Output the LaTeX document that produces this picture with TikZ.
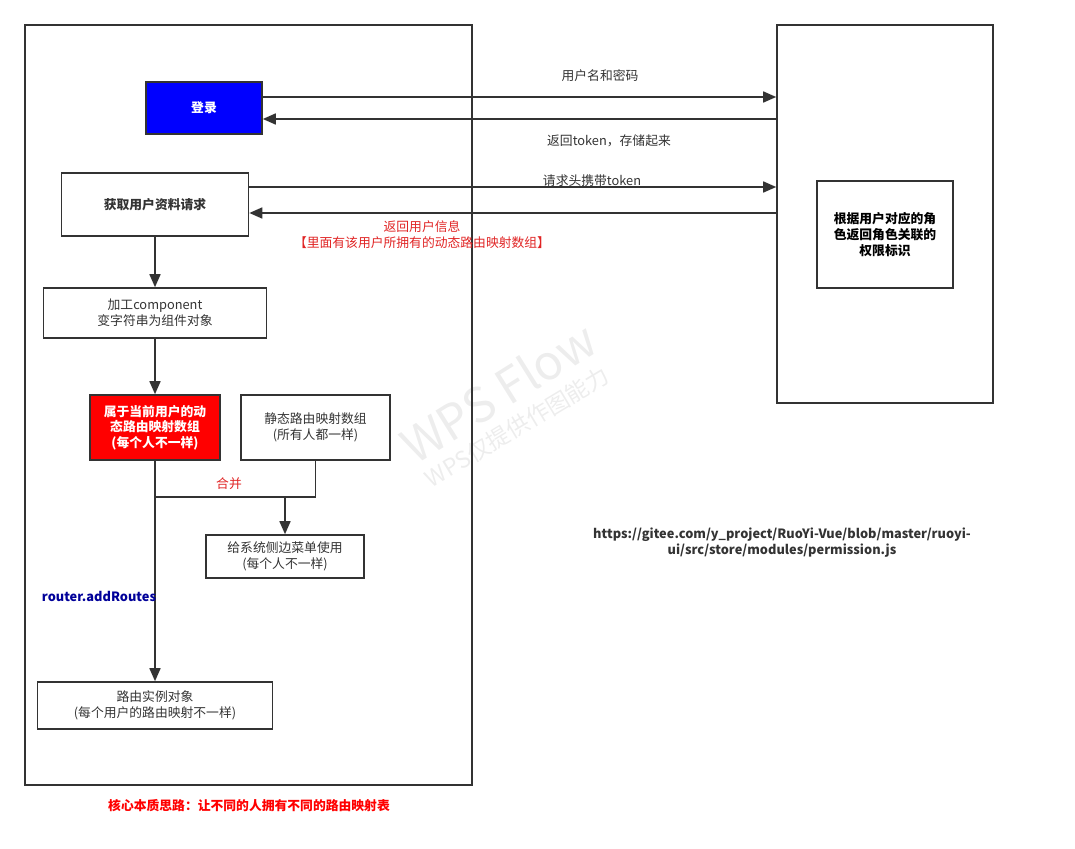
\documentclass[tikz,border=0pt]{standalone}
\usepackage{fontspec}
\setmainfont{Noto Sans CJK SC}
\usetikzlibrary{arrows.meta}
\definecolor{linegray}{HTML}{333333}
\definecolor{txtred}{HTML}{E02424}
\definecolor{wmgray}{HTML}{EDEDED}
\definecolor{routeblue}{HTML}{000099}
\tikzset{
  box/.style={draw=linegray, line width=1.6pt, rectangle, align=center, text=linegray, inner sep=0pt},
  arr/.style={draw=linegray, line width=1.6pt, -{Triangle[length=13pt,width=11pt]}},
  ln/.style={draw=linegray, line width=1.6pt},
  lbl/.style={text=linegray, align=center, inner sep=0pt},
}
\begin{document}
\begin{tikzpicture}[x=1pt, y=-1pt, font=\fontsize{12.8}{16}\selectfont]
        \useasboundingbox (0,0) rectangle (1075,848);

        \node[rotate=32, text=wmgray, font=\fontsize{48}{52}\selectfont] (wm) at (498,392) {WPS Flow};
        \node[rotate=31, text=wmgray, font=\fontsize{23}{26}\selectfont] (wmsub) at (517,427) {WPS仅提供作图能力};

        
        \node[box, minimum width=447pt, minimum height=760pt] (app) at (248.5,405) {};
        \node[box, minimum width=216pt, minimum height=378pt] (srv) at (885,214) {};

        
        \node[box, fill=blue, text=white, font=\fontsize{12.8}{16}\selectfont\bfseries, minimum width=116pt, minimum height=52pt] (login) at (204,108) {登录};
        \node[box, font=\fontsize{12.8}{16}\selectfont\bfseries, minimum width=187pt, minimum height=63pt] (info) at (155,204.5) {获取用户资料请求};
        \node[box, text=black, font=\fontsize{12.8}{16}\selectfont\bfseries, minimum width=136pt, minimum height=107pt] (role) at (885,234.5) {根据用户对应的角\\色返回角色关联的\\权限标识};
        \node[box, minimum width=223pt, minimum height=50pt] (comp) at (155,313) {加工component\\变字符串为组件对象};
        \node[box, fill=red, text=white, font=\fontsize{12.8}{15.5}\selectfont\bfseries, minimum width=130pt, minimum height=65pt] (dyn) at (155,427.5) {属于当前用户的动\\态路由映射数组\\(每个人不一样)};
        \node[box, minimum width=149pt, minimum height=65pt] (stat) at (315.5,427.5) {静态路由映射数组\\(所有人都一样)};
        \node[box, minimum width=158pt, minimum height=43pt] (menu) at (285,556.5) {给系统侧边菜单使用\\(每个人不一样)};
        \node[box, minimum width=235pt, minimum height=47pt] (route) at (155,705.5) {路由实例对象\\(每个用户的路由映射不一样)};

        
        \coordinate (up1) at ([yshift=11pt]login.east);
        \coordinate (dn1) at ([yshift=-11pt]login.east);
        \coordinate (up2) at ([yshift=17.5pt]info.east);
        \coordinate (dn2) at ([yshift=-8.5pt]info.east);
        \coordinate (mrg) at (155,497);

        \draw[arr] (up1) -- (up1 -| srv.west);
        \draw[arr] (dn1 -| srv.west) -- (dn1);
        \draw[arr] (up2) -- (up2 -| srv.west);
        \draw[arr] (dn2 -| srv.west) -- (dn2);

        
        \draw[arr] (info) -- (comp);
        \draw[arr] (comp) -- (dyn);
        \draw[arr] (dyn) -- (route);
        \draw[ln] (stat.south) |- (mrg);
        \draw[arr] (menu.north |- mrg) -- (menu.north);

        
        \node[lbl] (lusr) at (600,76) {用户名和密码};
        \node[lbl] (ltok) at (609,141) {返回token，存储起来};
        \node[lbl] (lhdr) at (592,181) {请求头携带token};
        \node[lbl, text=txtred] (linfo) at (422,235) {返回用户信息\\【里面有该用户所拥有的动态路由映射数组】};
        \node[lbl, text=txtred] (lmrg) at (229,484) {合并};
        \node[lbl, text=routeblue, font=\fontsize{12.8}{16}\selectfont\bfseries] (lrt) at (99,596) {router.addRoutes};
        \node[lbl, font=\fontsize{12.8}{16}\selectfont\bfseries] (lurl) at (782,543) {https://gitee.com/y\_project/RuoYi-Vue/blob/master/ruoyi-\\ui/src/store/modules/permission.js};
        \node[lbl, text=red, font=\fontsize{12.8}{16}\selectfont\bfseries] (lcore) at (249,806) {核心本质思路：让不同的人拥有不同的路由映射表};
    \end{tikzpicture}
\end{document}
